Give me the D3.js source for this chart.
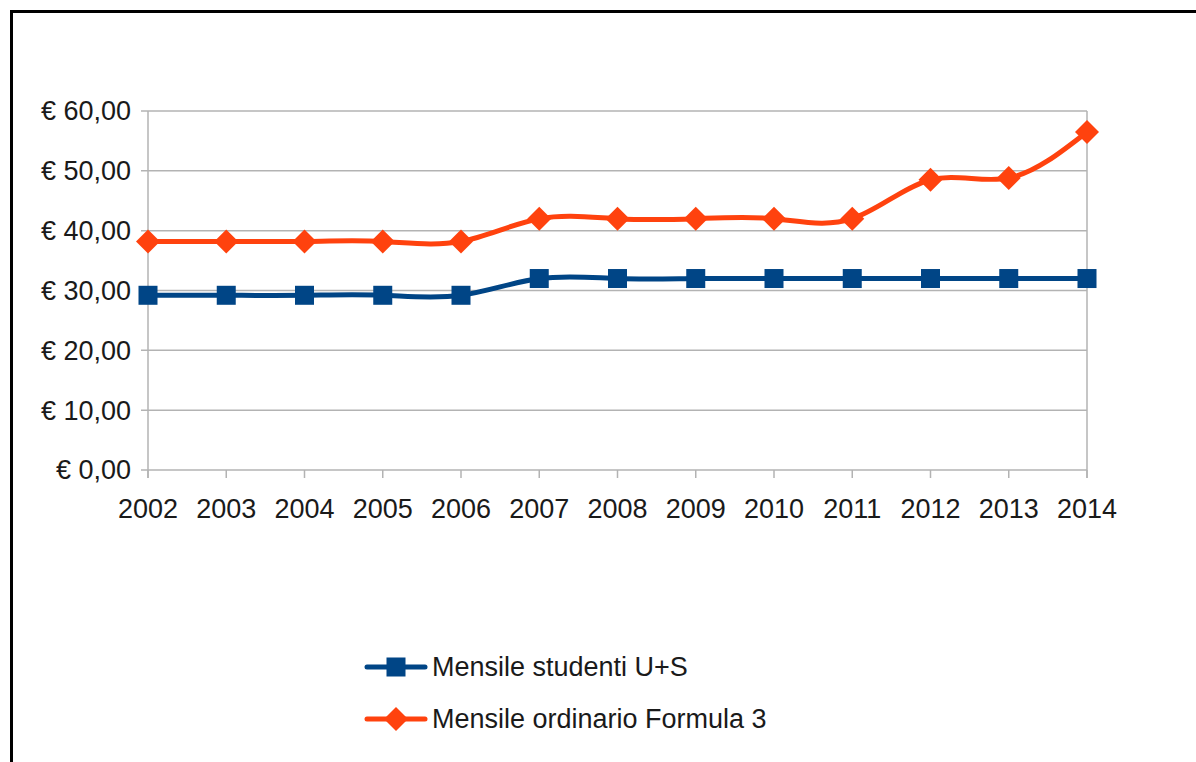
<!DOCTYPE html>
<html><head><meta charset="utf-8">
<script src="https://cdn.jsdelivr.net/npm/d3@7/dist/d3.min.js"></script>
<style>
html,body{margin:0;padding:0;background:#fff;}
svg{display:block;}
text{font-family:"Liberation Sans",Arial,sans-serif;fill:#1a1a1a;}
</style></head>
<body>
<svg id="c" width="1196" height="762"></svg>
<script>
const years = ["2002","2003","2004","2005","2006","2007","2008","2009","2010","2011","2012","2013","2014"];
const studenti = [29.2,29.2,29.2,29.2,29.2,32,32,32,32,32,32,32,32];
const ordinario = [38.2,38.2,38.2,38.2,38.2,42,42,42,42,42,48.5,48.8,56.5];
const yTicks = [0,10,20,30,40,50,60];
const yTickLabels = ["€ 0,00","€ 10,00","€ 20,00","€ 30,00","€ 40,00","€ 50,00","€ 60,00"];
const seriesNames = ["Mensile studenti U+S","Mensile ordinario Formula 3"];

(function(){
const svg = d3.select("#c");
const blue = "#004586", orange = "#ff420e", grid = "#b3b3b3";
const fs = 27;

// outer frame (clipped by window on right/bottom)
svg.append("rect").attr("x",11.5).attr("y",11.5).attr("width",1300).attr("height",900)
  .attr("fill","none").attr("stroke","#000").attr("stroke-width",3);

const pL = 148, pR = 1087, pT = 111, pB = 470;
const x = d3.scalePoint().domain(years).range([pL,pR]);
const y = d3.scaleLinear().domain([0,60]).range([pB,pT]);

// gridlines
svg.append("g").selectAll("line").data(yTicks).join("line")
  .attr("x1",pL-7).attr("x2",pR).attr("y1",d=>y(d)).attr("y2",d=>y(d))
  .attr("stroke",grid).attr("stroke-width",1.5);
// vertical frame lines
[pL,pR].forEach(px=>svg.append("line").attr("x1",px).attr("x2",px).attr("y1",pT).attr("y2",pB+8)
  .attr("stroke",grid).attr("stroke-width",1.5));
// x ticks
svg.append("g").selectAll("line").data(years).join("line")
  .attr("x1",d=>x(d)).attr("x2",d=>x(d)).attr("y1",pB).attr("y2",pB+8)
  .attr("stroke",grid).attr("stroke-width",1.5);

// y labels
svg.append("g").selectAll("text").data(yTicks).join("text")
  .attr("x",131).attr("y",d=>y(d)).attr("dy","0.35em").attr("text-anchor","end")
  .attr("font-size",fs).text((d,i)=>yTickLabels[i]);
// x labels
svg.append("g").selectAll("text").data(years).join("text")
  .attr("x",d=>x(d)).attr("y",518).attr("text-anchor","middle")
  .attr("font-size",fs).text(d=>d);

const line = d3.line().x((d,i)=>x(years[i])).y(d=>y(d)).curve(d3.curveNatural);

function square(g,cx,cy,s,col){g.append("rect").attr("x",cx-s/2).attr("y",cy-s/2).attr("width",s).attr("height",s).attr("fill",col);}
function diamond(g,cx,cy,s,col){g.append("path").attr("d",`M${cx},${cy-s/2}L${cx+s/2},${cy}L${cx},${cy+s/2}L${cx-s/2},${cy}Z`).attr("fill",col);}

svg.append("path").datum(studenti).attr("d",line).attr("fill","none").attr("stroke",blue).attr("stroke-width",5);
svg.append("path").datum(ordinario).attr("d",line).attr("fill","none").attr("stroke",orange).attr("stroke-width",5);
const mg = svg.append("g");
studenti.forEach((v,i)=>square(mg,x(years[i]),y(v),19,blue));
ordinario.forEach((v,i)=>diamond(mg,x(years[i]),y(v),24,orange));

// legend
const lg = svg.append("g");
const rows = [{n:seriesNames[0],c:blue,m:square,s:19,yy:667},{n:seriesNames[1],c:orange,m:diamond,s:24,yy:719}];
rows.forEach(r=>{
  lg.append("line").attr("x1",367).attr("x2",425).attr("y1",r.yy).attr("y2",r.yy)
    .attr("stroke",r.c).attr("stroke-width",5).attr("stroke-linecap","round");
  r.m(lg,396,r.yy,r.s,r.c);
  lg.append("text").attr("x",432).attr("y",r.yy).attr("dy","0.35em").attr("font-size",fs).text(r.n);
});
})();
</script>
</body></html>
